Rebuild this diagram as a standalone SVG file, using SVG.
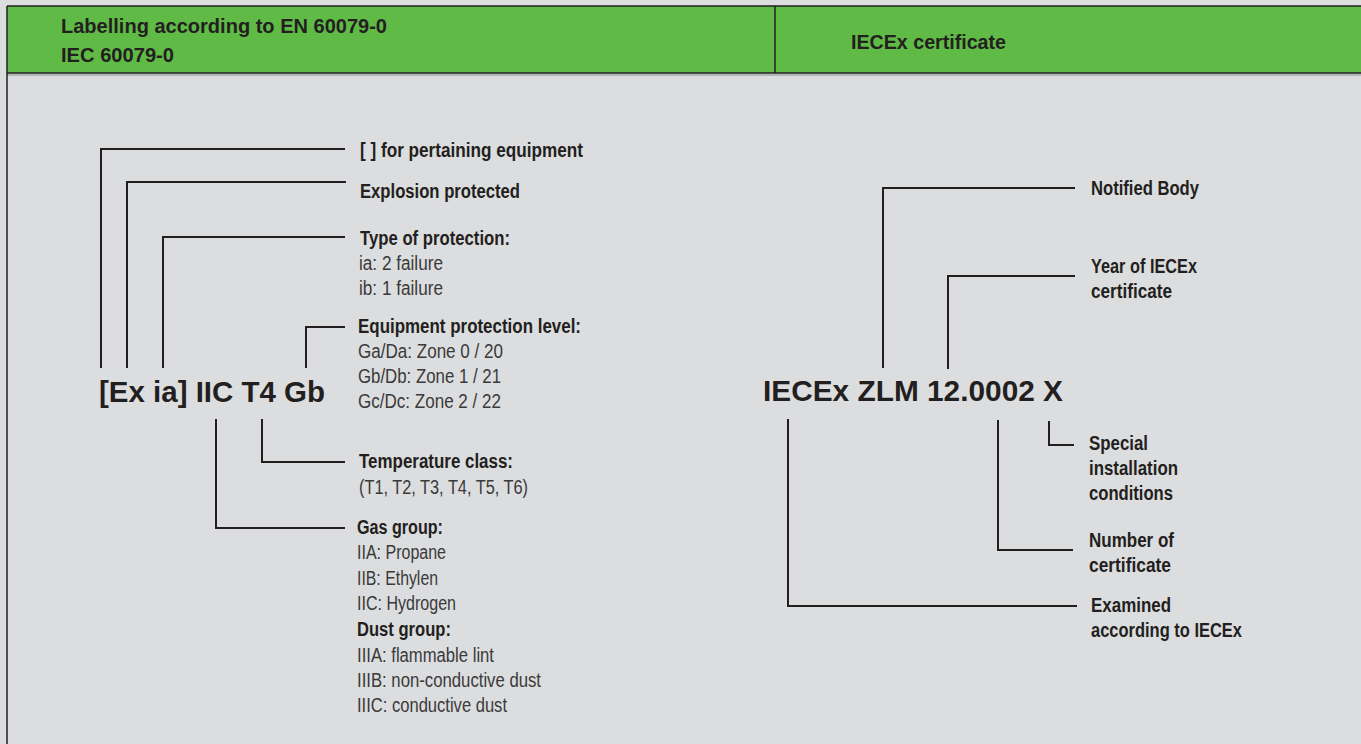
<svg xmlns="http://www.w3.org/2000/svg" width="1361" height="744" viewBox="0 0 1361 744">
<style>
.bg{fill:#dcdddf}
.hdr{fill:#5fba46}
.frame{stroke:#231f20;stroke-width:1.5;fill:none}
.ln{stroke:#231f20;stroke-width:2;fill:none}
.h{font-family:"Liberation Sans",Arial,sans-serif;font-weight:bold;font-size:21px;fill:#231f20}
.big{font-family:"Liberation Sans",Arial,sans-serif;font-weight:bold;font-size:29.5px;fill:#231f20}
.b{font-family:"Liberation Sans",Arial,sans-serif;font-weight:bold;font-size:19.5px;fill:#231f20}
.r{font-family:"Liberation Sans",Arial,sans-serif;font-size:19.5px;fill:#3a3a3a}
</style>
<rect class="bg" x="0" y="0" width="1361" height="744"/>
<g id="header">
<rect class="hdr" x="7" y="6" width="1354" height="67"/>
<line x1="7" y1="6" x2="1361" y2="6" class="frame"/>
<line x1="7" y1="73" x2="1361" y2="73" class="frame"/>
<line x1="7" y1="75" x2="1361" y2="75" stroke="#a8a9ab" stroke-width="1.5"/>
<line x1="7" y1="6" x2="7" y2="744" class="frame"/>
<line x1="775" y1="6" x2="775" y2="73" class="frame"/>
<text class="h" x="61" y="33" textLength="326" lengthAdjust="spacingAndGlyphs">Labelling according to EN 60079-0</text>
<text class="h" x="61" y="62" textLength="113" lengthAdjust="spacingAndGlyphs">IEC 60079-0</text>
<text class="h" x="851" y="49" textLength="155" lengthAdjust="spacingAndGlyphs">IECEx certificate</text>
</g>
<g id="connectors">
<polyline class="ln" points="101,368 101,149 345,149"/>
<polyline class="ln" points="127,368 127,182 346,182"/>
<polyline class="ln" points="163,368 163,237 345,237"/>
<polyline class="ln" points="306,368 306,327 345,327"/>
<polyline class="ln" points="262,419 262,462 345,462"/>
<polyline class="ln" points="216,419 216,528 345,528"/>
<polyline class="ln" points="883,368 883,188 1075,188"/>
<polyline class="ln" points="948,369 948,276 1075,276"/>
<polyline class="ln" points="1049,421 1049,445 1074,445"/>
<polyline class="ln" points="998,420 998,550 1073,550"/>
<polyline class="ln" points="788,419 788,606 1077,606"/>
</g>
<g id="left-code">
<text class="big" x="99" y="402" textLength="226" lengthAdjust="spacingAndGlyphs">[Ex ia] IIC T4 Gb</text>
</g>
<g id="pertaining">
<text class="b" x="360" y="157" textLength="223" lengthAdjust="spacingAndGlyphs">[ ] for pertaining equipment</text>
</g>
<g id="explosion">
<text class="b" x="360" y="198" textLength="160" lengthAdjust="spacingAndGlyphs">Explosion protected</text>
</g>
<g id="protection-type">
<text class="b" x="360" y="245" textLength="150" lengthAdjust="spacingAndGlyphs">Type of protection:</text>
<text class="r" x="359" y="270" textLength="84" lengthAdjust="spacingAndGlyphs">ia: 2 failure</text>
<text class="r" x="359" y="295" textLength="84" lengthAdjust="spacingAndGlyphs">ib: 1 failure</text>
</g>
<g id="epl">
<text class="b" x="358" y="333" textLength="223" lengthAdjust="spacingAndGlyphs">Equipment protection level:</text>
<text class="r" x="358" y="358" textLength="145" lengthAdjust="spacingAndGlyphs">Ga/Da: Zone 0 / 20</text>
<text class="r" x="358" y="383" textLength="143" lengthAdjust="spacingAndGlyphs">Gb/Db: Zone 1 / 21</text>
<text class="r" x="358" y="408" textLength="143" lengthAdjust="spacingAndGlyphs">Gc/Dc: Zone 2 / 22</text>
</g>
<g id="temperature">
<text class="b" x="359" y="468" textLength="154" lengthAdjust="spacingAndGlyphs">Temperature class:</text>
<text class="r" x="359" y="494" textLength="169" lengthAdjust="spacingAndGlyphs">(T1, T2, T3, T4, T5, T6)</text>
</g>
<g id="groups">
<text class="b" x="357" y="534" textLength="86" lengthAdjust="spacingAndGlyphs">Gas group:</text>
<text class="r" x="357" y="559" textLength="89" lengthAdjust="spacingAndGlyphs">IIA: Propane</text>
<text class="r" x="357" y="585" textLength="81" lengthAdjust="spacingAndGlyphs">IIB: Ethylen</text>
<text class="r" x="357" y="610" textLength="99" lengthAdjust="spacingAndGlyphs">IIC: Hydrogen</text>
<text class="b" x="357" y="636" textLength="94" lengthAdjust="spacingAndGlyphs">Dust group:</text>
<text class="r" x="357" y="662" textLength="137" lengthAdjust="spacingAndGlyphs">IIIA: flammable lint</text>
<text class="r" x="357" y="687" textLength="184" lengthAdjust="spacingAndGlyphs">IIIB: non-conductive dust</text>
<text class="r" x="357" y="712" textLength="150" lengthAdjust="spacingAndGlyphs">IIIC: conductive dust</text>
</g>
<g id="right-code">
<text class="big" x="763" y="401" textLength="300" lengthAdjust="spacingAndGlyphs">IECEx ZLM 12.0002 X</text>
</g>
<g id="notified">
<text class="b" x="1091" y="195" textLength="108" lengthAdjust="spacingAndGlyphs">Notified Body</text>
</g>
<g id="year">
<text class="b" x="1091" y="273" textLength="106" lengthAdjust="spacingAndGlyphs">Year of IECEx</text>
<text class="b" x="1091" y="298" textLength="81" lengthAdjust="spacingAndGlyphs">certificate</text>
</g>
<g id="special">
<text class="b" x="1089" y="450" textLength="59" lengthAdjust="spacingAndGlyphs">Special</text>
<text class="b" x="1089" y="475" textLength="89" lengthAdjust="spacingAndGlyphs">installation</text>
<text class="b" x="1089" y="500" textLength="84" lengthAdjust="spacingAndGlyphs">conditions</text>
</g>
<g id="number">
<text class="b" x="1089" y="547" textLength="85" lengthAdjust="spacingAndGlyphs">Number of</text>
<text class="b" x="1089" y="572" textLength="82" lengthAdjust="spacingAndGlyphs">certificate</text>
</g>
<g id="examined">
<text class="b" x="1091" y="612" textLength="80" lengthAdjust="spacingAndGlyphs">Examined</text>
<text class="b" x="1091" y="637" textLength="151" lengthAdjust="spacingAndGlyphs">according to IECEx</text>
</g>
</svg>
